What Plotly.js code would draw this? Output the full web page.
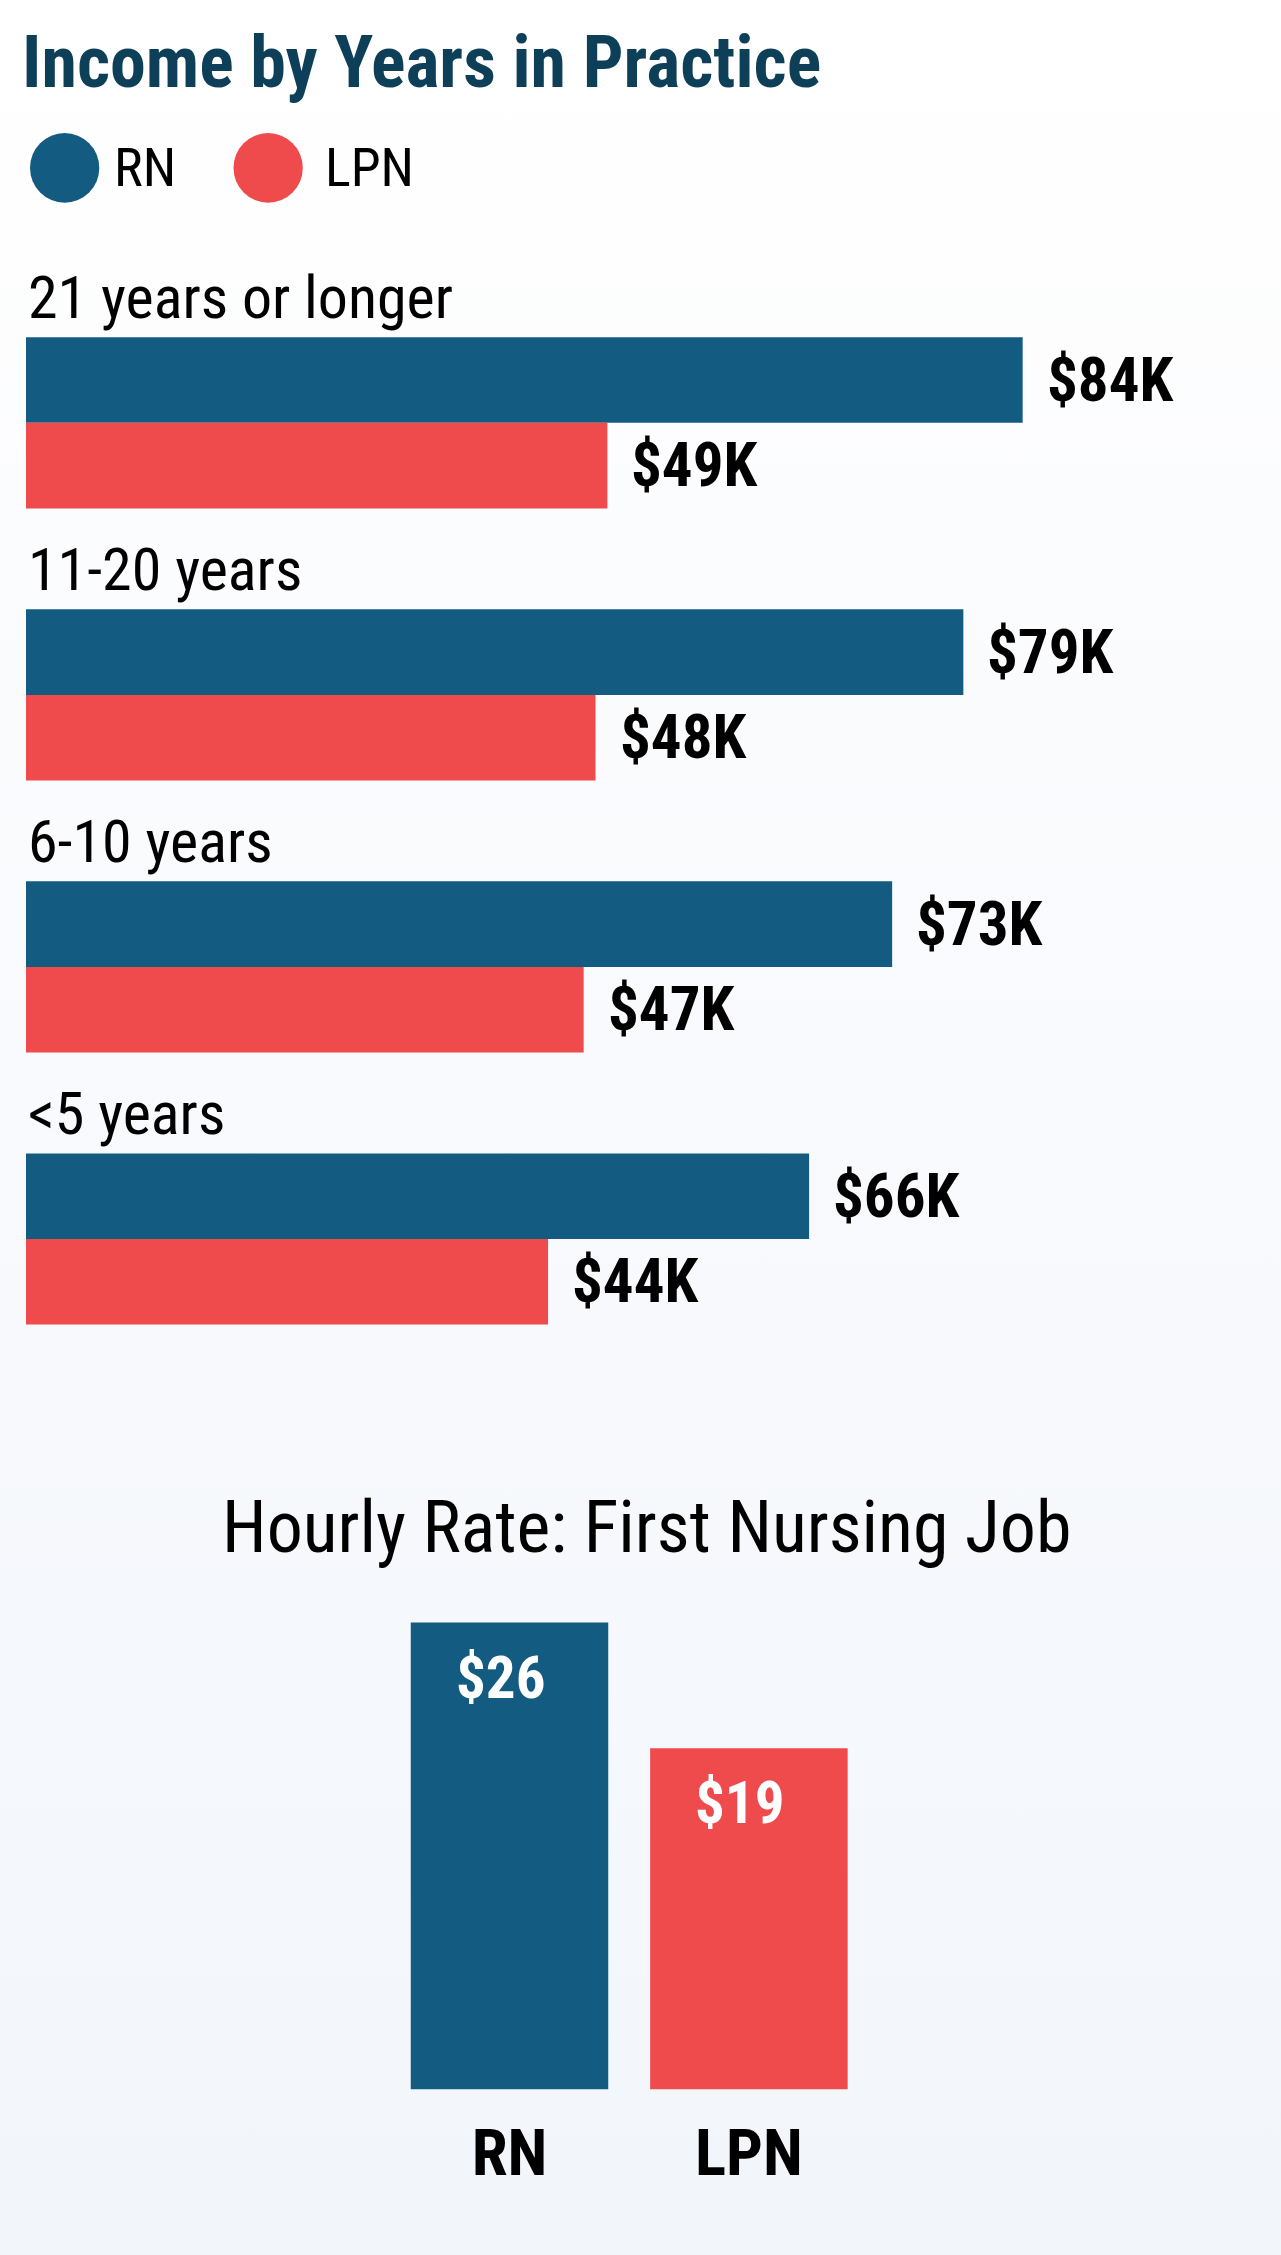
<!DOCTYPE html>
<html>
<head>
<meta charset="utf-8">
<script src="https://cdn.plot.ly/plotly-3.0.1.min.js"></script>
<style>
  html, body { margin: 0; padding: 0; }
  body { width: 1281px; height: 2255px; background: linear-gradient(#ffffff 0%, #f9fafd 45%, #f2f6fb 100%); }
  #chart { width: 1281px; height: 2255px; }
  #chart text { font-stretch: 75%; }
</style>
</head>
<body>
<div id="chart"></div>
<script>
// ---- data ----
const categories = ["21 years or longer", "11-20 years", "6-10 years", "<5 years"];
const rnIncome  = [84, 79, 73, 66];   // $K
const lpnIncome = [49, 48, 47, 44];   // $K
const hourlyCats = ["RN", "LPN"];
const hourlyRates = [26, 19];         // $ per hour
const seriesNames = ["RN", "LPN"];

// ---- styles ----
const RN_COLOR = "#145b81";
const LPN_COLOR = "#ef4a4c";
const FONT = '"Roboto Condensed", Roboto, sans-serif';
const W = 1281, H = 2255;
const px = v => v / W;
const py = v => 1 - v / H;

const traces = [
  { type: "bar", orientation: "h", name: seriesNames[0], y: categories, x: rnIncome,
    marker: { color: RN_COLOR, line: { width: 0 } }, xaxis: "x", yaxis: "y", hoverinfo: "skip" },
  { type: "bar", orientation: "h", name: seriesNames[1], y: categories, x: lpnIncome,
    marker: { color: LPN_COLOR, line: { width: 0 } }, xaxis: "x", yaxis: "y", hoverinfo: "skip" },
  { type: "bar", x: hourlyCats, y: hourlyRates, width: 0.825,
    marker: { color: [RN_COLOR, LPN_COLOR], line: { width: 0 } }, xaxis: "x2", yaxis: "y2", hoverinfo: "skip" }
];

const annotations = [];
// category labels above each group
categories.forEach(c => annotations.push({
  xref: "x", yref: "y", x: 0, y: c, xanchor: "left", yanchor: "bottom",
  yshift: 88, showarrow: false, text: c, font: { family: FONT, size: 60, color: "#000" }
}));
// value labels right of bars
const fmtK = v => "$" + v + "K";
rnIncome.forEach((v, i) => annotations.push({
  xref: "x", yref: "y", x: v, y: categories[i], xanchor: "left", yanchor: "middle",
  xshift: 22, yshift: 42.5, showarrow: false, text: fmtK(v),
  font: { family: FONT, size: 61, color: "#000", weight: 700 }
}));
lpnIncome.forEach((v, i) => annotations.push({
  xref: "x", yref: "y", x: v, y: categories[i], xanchor: "left", yanchor: "middle",
  xshift: 22, yshift: -42.5, showarrow: false, text: fmtK(v),
  font: { family: FONT, size: 61, color: "#000", weight: 700 }
}));
// hourly value labels inside bars
hourlyRates.forEach((v, i) => annotations.push({
  xref: "x2", yref: "y2", x: hourlyCats[i], y: v, xanchor: "center", yanchor: "top",
  xshift: -9, yshift: -18, showarrow: false, text: "$" + v,
  font: { family: FONT, size: 59, color: "#ffffff", weight: 700 }
}));
// legend texts
annotations.push({ xref: "paper", yref: "paper", x: px(112), y: py(167.5), xanchor: "left", yanchor: "middle",
  showarrow: false, text: seriesNames[0], font: { family: FONT, size: 54, color: "#000" } });
annotations.push({ xref: "paper", yref: "paper", x: px(323), y: py(167.5), xanchor: "left", yanchor: "middle",
  showarrow: false, text: seriesNames[1], font: { family: FONT, size: 54, color: "#000" } });
// second chart title
annotations.push({ xref: "paper", yref: "paper", x: px(646.8), y: py(1527), xanchor: "center", yanchor: "middle",
  showarrow: false, text: "Hourly Rate: First Nursing Job", font: { family: FONT, size: 72, color: "#000" } });

const shapes = [
  { type: "circle", xref: "paper", yref: "paper", x0: px(30), x1: px(99.3), y0: py(202.7), y1: py(133),
    fillcolor: RN_COLOR, line: { width: 0 } },
  { type: "circle", xref: "paper", yref: "paper", x0: px(233.5), x1: px(302.8), y0: py(202.7), y1: py(133),
    fillcolor: LPN_COLOR, line: { width: 0 } }
];

const layout = {
  width: W, height: H,
  margin: { l: 0, r: 0, t: 0, b: 0, pad: 0 },
  paper_bgcolor: "rgba(0,0,0,0)", plot_bgcolor: "rgba(0,0,0,0)",
  font: { family: FONT, color: "#000" },
  showlegend: false,
  barmode: "group", bargap: 0.371, bargroupgap: 0,
  title: { text: "Income by Years in Practice", x: px(22), xref: "paper", xanchor: "left",
    y: py(37), yref: "container", yanchor: "top", pad: { t: 0, b: 0, l: 0, r: 0 },
    font: { family: FONT, size: 72, color: "#0e3f58", weight: 700 } },
  xaxis: { domain: [px(26), px(26 + 1186.5)], range: [0, 100], visible: false, fixedrange: true },
  yaxis: { domain: [py(1375), py(286.8)], type: "category", range: [3.5, -0.5], visible: false, fixedrange: true },
  xaxis2: { domain: [px(389.8), px(868.6)], type: "category", range: [-0.5, 1.5], anchor: "y2",
    showgrid: false, zeroline: false, showline: false, ticks: "", ticklabelstandoff: 19,
    tickfont: { family: FONT, size: 65, color: "#000", weight: 700 }, fixedrange: true },
  yaxis2: { domain: [py(2089.5), py(1586.6)], range: [0, 28], anchor: "x2", visible: false, fixedrange: true },
  annotations: annotations,
  shapes: shapes
};

Plotly.newPlot("chart", traces, layout, { staticPlot: true, displayModeBar: false });
</script>
</body>
</html>
